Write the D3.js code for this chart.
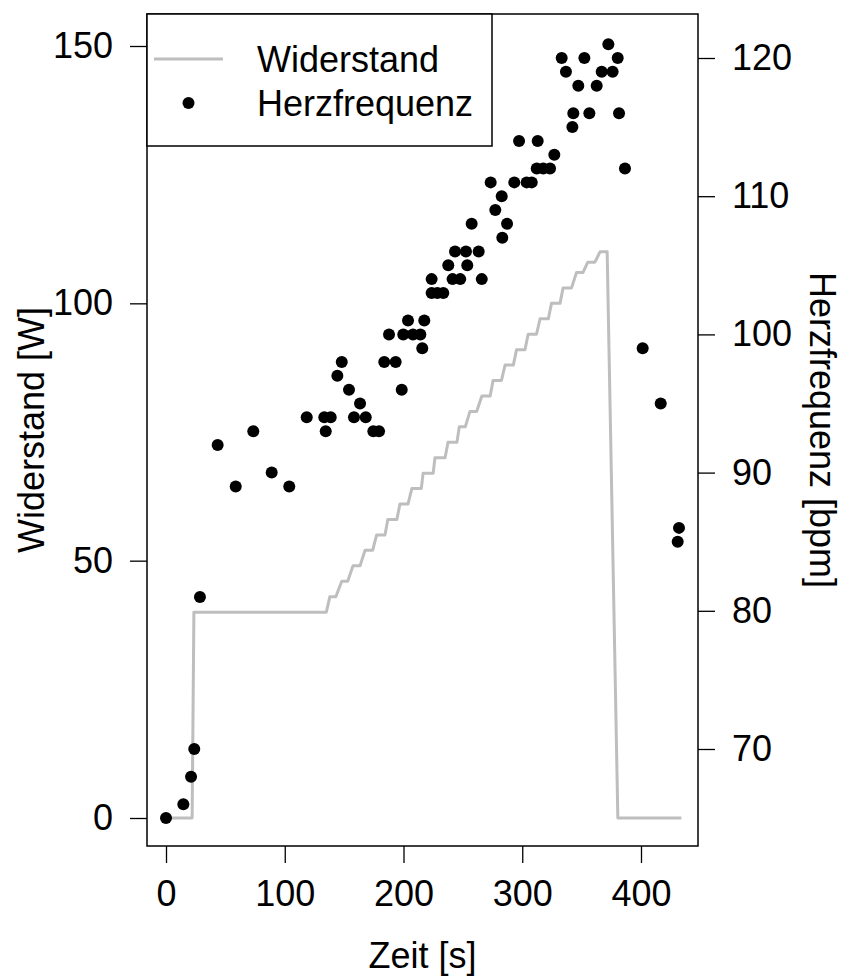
<!DOCTYPE html>
<html>
<head>
<meta charset="utf-8">
<script src="https://cdn.jsdelivr.net/npm/d3@7"></script>
<style>
  body { margin: 0; background: #fff; }
  text { font-family: "Liberation Sans", Arial, Helvetica, sans-serif; fill: #000; }
</style>
</head>
<body>
<svg id="chart" width="843" height="978"></svg>
<script>
// Tick values for the three axes
const zeitTicks = [0, 100, 200, 300, 400];
const wattTicks = [0, 50, 100, 150];
const bpmTicks = [70, 80, 90, 100, 110, 120];

// Resistance protocol (step line): time [s] and load [W] at each vertex
const widerstandZeit = [0, 22, 23.5, 135, 138, 143, 148, 153, 157.5, 163.4, 167.6, 174, 177.4, 184.4,
  186.8, 194.4, 197, 203.8, 207, 215, 216.5, 225, 226.5, 235, 237.5, 245, 247, 252, 256, 261.6,
  266, 273, 275.4, 282.5, 285.5, 292.5, 295.2, 302.3, 305, 312, 315, 322, 324.6, 331.8,
  334.4, 341.5, 345.7, 351.2, 355.2, 361.2, 365.5, 371.5, 380.5, 434];
const widerstandWatt = [0, 0, 40, 40, 43, 43, 46, 46, 49, 49, 52, 52, 55, 55,
  58, 58, 61, 61, 64, 64, 67, 67, 70, 70, 73, 73, 76, 76, 79, 79,
  82, 82, 85, 85, 88, 88, 91, 91, 94, 94, 97, 97, 100, 100,
  103, 103, 106, 106, 108, 108, 110, 110, 0, 0];

// Heart rate measurements: time [s] and beats per minute
const herzZeit = [0, 14.6, 21.1, 23.8, 28.6, 43.5, 58.7, 73.5, 89.0, 103.8,
  118.5, 133.3, 134.5, 138.7, 144.3, 148.0, 154.1, 158.3, 163.4, 168.2,
  174.6, 179.4, 183.8, 187.8, 193.4, 198.5, 199.8, 203.8, 208.0, 214.2,
  215.8, 217.5, 223.7, 223.7, 228.5, 233.5, 237.7, 241.3, 243.4, 247.8,
  252.6, 253.7, 257.4, 263.3, 265.9, 273.4, 277.3, 282.7, 283.2, 287.2,
  293.3, 297.3, 303.7, 308.0, 312.2, 313.0, 317.7, 323.4, 327.0, 333.2,
  336.8, 342.2, 343.0, 347.2, 352.3, 356.5, 362.7, 366.9, 372.5, 376.1,
  380.4, 381.5, 386.5, 401.4, 416.6, 430.9, 432.0];
const herzBpm = [65, 66, 68, 70, 81, 92, 89, 93, 90, 89,
  94, 94, 93, 94, 97, 98, 96, 94, 95, 94,
  93, 93, 98, 100, 98, 96, 100, 101, 100, 100,
  99, 101, 104, 103, 103, 103, 105, 104, 106, 104,
  106, 105, 108, 106, 104, 111, 109, 110, 107, 108,
  111, 114, 111, 111, 112, 114, 112, 112, 113, 120,
  119, 115, 116, 118, 120, 116, 118, 119, 121, 119,
  120, 116, 112, 99, 95, 85, 86];

const legendLabels = ["Widerstand", "Herzfrequenz"];

const svg = d3.select("#chart");
const fontSize = 36;
const tickLen = 17;
const frame = { left: 147, right: 698, top: 14, bottom: 846 };

const x = d3.scaleLinear().domain([0, 400]).range([166, 641]);
const yW = d3.scaleLinear().domain([0, 150]).range([818, 46]);
const yB = d3.scaleLinear().domain([70, 120]).range([749, 58]);

// Resistance line
const widerstand = widerstandZeit.map((t, i) => [t, widerstandWatt[i]]);
svg.append("path")
  .datum(widerstand)
  .attr("fill", "none")
  .attr("stroke", "#bebebe")
  .attr("stroke-width", 3)
  .attr("stroke-linejoin", "round")
  .attr("d", d3.line().x(d => x(d[0])).y(d => yW(d[1])));

// Heart rate points
const herz = herzZeit.map((t, i) => [t, herzBpm[i]]);
svg.append("g").selectAll("circle")
  .data(herz)
  .join("circle")
  .attr("cx", d => x(d[0]))
  .attr("cy", d => yB(d[1]))
  .attr("r", 6)
  .attr("fill", "#000");

// Axes
function styleAxis(g) {
  g.select(".domain").remove();
  g.selectAll("line").attr("stroke", "#000").attr("stroke-width", 1.3);
  g.selectAll("text").attr("font-size", fontSize).attr("fill", "#000");
  g.attr("font-family", null);
}

svg.append("g")
  .attr("transform", `translate(0,${frame.bottom})`)
  .call(d3.axisBottom(x).tickValues(zeitTicks).tickSize(tickLen).tickPadding(17).tickFormat(d3.format("d")))
  .call(styleAxis);

svg.append("g")
  .attr("transform", `translate(${frame.left},0)`)
  .call(d3.axisLeft(yW).tickValues(wattTicks).tickSize(tickLen).tickPadding(17).tickFormat(d3.format("d")))
  .call(styleAxis);

svg.append("g")
  .attr("transform", `translate(${frame.right},0)`)
  .call(d3.axisRight(yB).tickValues(bpmTicks).tickSize(tickLen).tickPadding(17).tickFormat(d3.format("d")))
  .call(styleAxis);

// Plot frame
svg.append("rect")
  .attr("x", frame.left).attr("y", frame.top)
  .attr("width", frame.right - frame.left).attr("height", frame.bottom - frame.top)
  .attr("fill", "none").attr("stroke", "#000").attr("stroke-width", 1.5);

// Axis titles
const midY = (frame.top + frame.bottom) / 2;
svg.append("text")
  .attr("x", (frame.left + frame.right) / 2).attr("y", 968)
  .attr("text-anchor", "middle").attr("font-size", fontSize)
  .text("Zeit [s]");
svg.append("text")
  .attr("transform", `translate(44,${midY}) rotate(-90)`)
  .attr("text-anchor", "middle").attr("font-size", fontSize)
  .text("Widerstand [W]");
svg.append("text")
  .attr("transform", `translate(810,${midY}) rotate(90)`)
  .attr("text-anchor", "middle").attr("font-size", fontSize)
  .text("Herzfrequenz [bpm]");

// Legend
const legend = svg.append("g");
legend.append("rect")
  .attr("x", frame.left).attr("y", frame.top)
  .attr("width", 492 - frame.left).attr("height", 146 - frame.top)
  .attr("fill", "#fff").attr("stroke", "#000").attr("stroke-width", 1.5);
const rowY = [59, 103];
legend.append("line")
  .attr("x1", 154).attr("x2", 223).attr("y1", rowY[0]).attr("y2", rowY[0])
  .attr("stroke", "#bebebe").attr("stroke-width", 3);
legend.append("circle")
  .attr("cx", 188.5).attr("cy", rowY[1]).attr("r", 6).attr("fill", "#000");
legend.selectAll("text.lbl")
  .data(legendLabels)
  .join("text")
  .attr("class", "lbl")
  .attr("x", 257)
  .attr("y", (d, i) => rowY[i])
  .attr("dy", "0.36em")
  .attr("font-size", fontSize)
  .text(d => d);
</script>
</body>
</html>
